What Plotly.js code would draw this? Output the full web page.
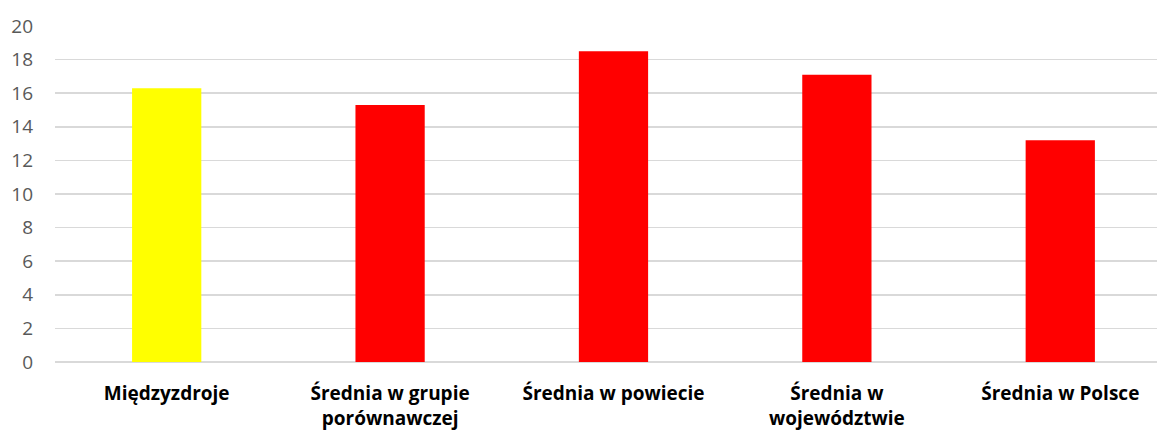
<!DOCTYPE html>
<html>
<head>
<meta charset="utf-8">
<script src="https://cdn.plot.ly/plotly-3.0.1.min.js"></script>
<style>
  html, body { margin: 0; padding: 0; background: #fff; }
  #chart { width: 1157px; height: 433px; }
</style>
</head>
<body>
<div id="chart"></div>
<script>
var categories = ["Międzyzdroje", "Średnia w grupie<br>porównawczej", "Średnia w powiecie", "Średnia w<br>województwie", "Średnia w Polsce"];
var values = [16.3, 15.3, 18.5, 17.1, 13.2];
var barColors = ["#ffff00", "#ff0000", "#ff0000", "#ff0000", "#ff0000"];
var yTicks = [0, 2, 4, 6, 8, 10, 12, 14, 16, 18, 20];

var idx = categories.map(function (c, i) { return i; });

var trace = {
  x: idx,
  y: values,
  type: "bar",
  width: 0.31,
  marker: { color: barColors, line: { width: 0 } },
  hoverinfo: "y"
};

var layout = {
  width: 1157,
  height: 433,
  margin: { l: 55, r: 0, t: 26, b: 71 },
  paper_bgcolor: "#ffffff",
  plot_bgcolor: "#ffffff",
  showlegend: false,
  font: { family: "Open Sans, Liberation Sans, sans-serif" },
  xaxis: {
    range: [-0.5, 4.433],
    tickmode: "array",
    tickvals: idx,
    ticktext: categories,
    showgrid: false,
    zeroline: false,
    showline: false,
    ticks: "",
    ticklabelstandoff: 18,
    tickfont: { family: "Open Sans, sans-serif", size: 19, color: "#000000", weight: "bold" },
    fixedrange: true
  },
  yaxis: {
    range: [0, 20],
    tickmode: "array",
    tickvals: yTicks,
    showgrid: true,
    gridcolor: "#d9d9d9",
    gridwidth: 1.5,
    zeroline: true,
    zerolinecolor: "#d9d9d9",
    zerolinewidth: 1.5,
    showline: false,
    ticks: "",
    ticklabelstandoff: 21,
    tickfont: { family: "Open Sans, sans-serif", size: 19, color: "#595959" },
    fixedrange: true
  }
};

Plotly.newPlot("chart", [trace], layout, { displayModeBar: false, staticPlot: true });
</script>
</body>
</html>
